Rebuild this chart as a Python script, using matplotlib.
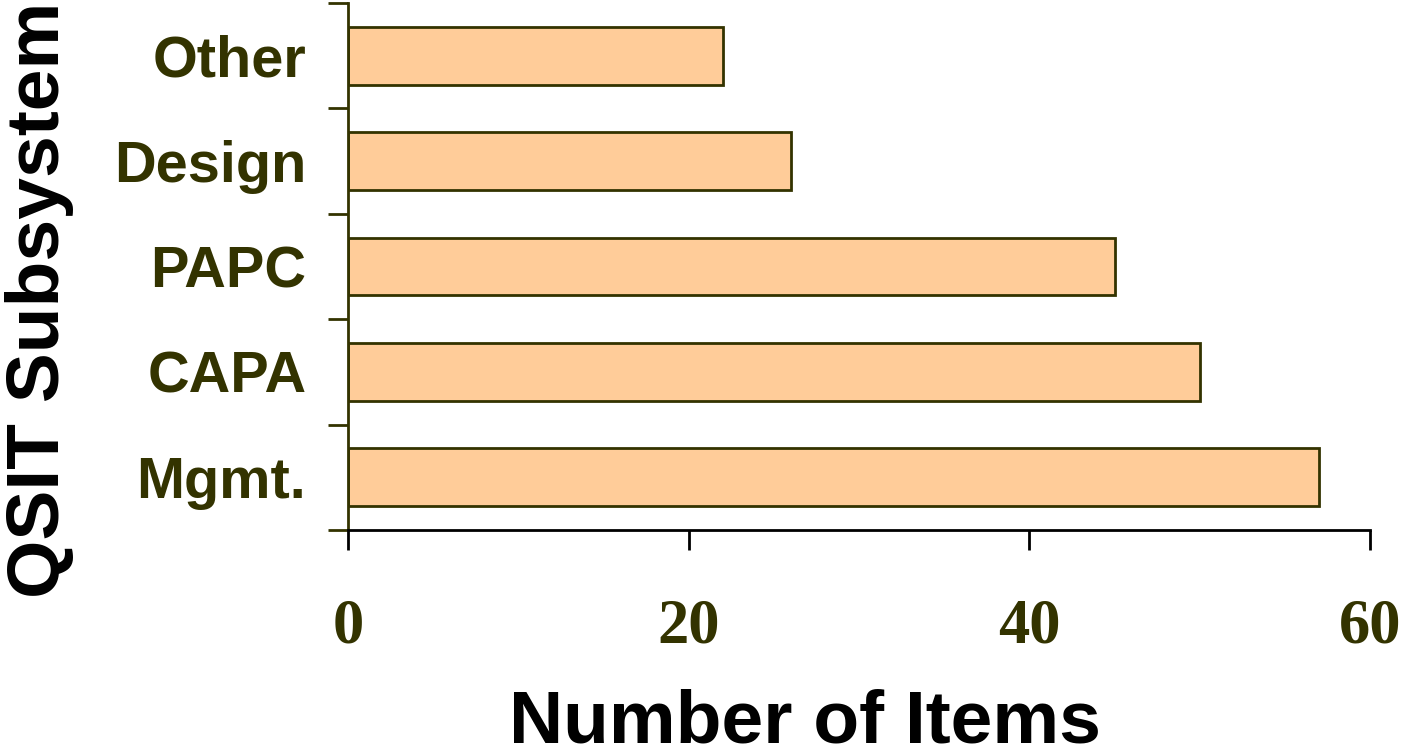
import matplotlib
matplotlib.use("Agg")
import matplotlib.pyplot as plt
import numpy as np

categories = ["Mgmt.", "CAPA", "PAPC", "Design", "Other"]
values = [57, 50, 45, 26, 22]
xticks = [0, 20, 40, 60]

olive = "#333300"
fig = plt.figure(figsize=(14.01, 7.55), dpi=100)
ax = fig.add_axes([348/1401, 1-530/755, (1370-348)/1401, 527/755])

y = np.arange(len(categories))
ax.barh(y, values, height=0.55, color="#FFCC99", edgecolor=olive, linewidth=2)
ax.set_xlim(0, 60)
ax.set_ylim(-0.5, len(categories) - 0.5)

for s in ["top", "right"]:
    ax.spines[s].set_visible(False)
ax.spines["left"].set_color(olive)
ax.spines["left"].set_linewidth(2)
ax.spines["bottom"].set_color("black")
ax.spines["bottom"].set_linewidth(2)

ax.set_xticks(xticks)
ax.set_xticklabels([str(t) for t in xticks], family="Liberation Serif",
                   fontweight="bold", fontsize=45, color=olive)
ax.tick_params(axis="x", direction="out", length=14.5, width=2, color="black", pad=35)

ax.set_yticks(np.arange(-0.5, len(categories), 1.0))
ax.set_yticklabels([])
ax.tick_params(axis="y", which="major", direction="out", length=14.5, width=2, color=olive)
ax.set_yticks(y, minor=True)
ax.set_yticklabels(categories, minor=True, family="Liberation Sans",
                   fontweight="bold", fontsize=41.5, color=olive)
ax.tick_params(axis="y", which="minor", length=0, pad=30)

fig.text(805/1401, 1-723/755, "Number of Items", ha="center", va="center",
         family="Liberation Sans", fontweight="bold", fontsize=54, color="black")
fig.text(40/1401, 1-300/755, "QSIT Subsystem", ha="center", va="center", rotation=90,
         family="Liberation Sans", fontweight="bold", fontsize=54, color="black")

fig.savefig("out.png", dpi=100)
